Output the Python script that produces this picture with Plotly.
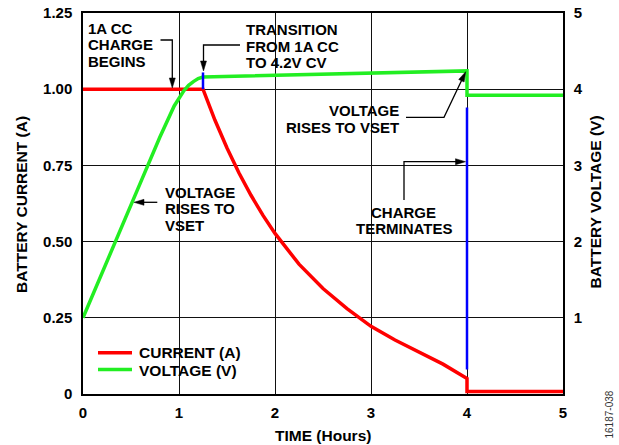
import math
import plotly.graph_objects as go

FONT = "Liberation Sans, Arial, Helvetica, sans-serif"

# ---- data ----
time_current = [0.0, 1.25, 1.375, 1.5, 1.625, 1.75, 1.875, 2.0, 2.25, 2.5,
                2.75, 3.0, 3.25, 3.5, 3.75, 4.0, 4.0, 5.0]
current = [1.0, 1.0, 0.898, 0.807, 0.725, 0.652, 0.586, 0.527, 0.426, 0.346,
           0.28, 0.222, 0.177, 0.138, 0.098, 0.051, 0.008, 0.008]

time_voltage = [0.0, 0.2, 0.333, 0.5, 0.611, 0.8, 0.95, 1.05, 1.1, 1.15,
                1.2, 1.25, 2.47, 4.0, 4.0, 5.0]
voltage = [1.0, 1.6, 2.0, 2.48, 2.81, 3.37, 3.78, 3.98, 4.05, 4.10,
           4.14, 4.16, 4.20, 4.24, 3.92, 3.92]

# blue markers (transition + termination), on the voltage scale
time_marker = [1.25, 1.25, None, 4.0, 4.0]
marker_voltage = [4.0, 4.22, None, 0.32, 3.76]

current_ticks = [0, 0.25, 0.5, 0.75, 1.0, 1.25]
current_labels = ["0", "0.25", "0.50", "0.75", "1.00", "1.25"]
voltage_ticks = [1, 2, 3, 4, 5]
time_ticks = [0, 1, 2, 3, 4, 5]

# plot area in pixels
W, H = 619, 445
L, R, T, B = 83, 563, 13, 394
PITCH = 16.4  # line spacing of the stacked callout texts


def paper(x, y):
    return (x - L) / (R - L), (B - y) / (B - T)


def path(points, close=False):
    parts = []
    for i, (x, y) in enumerate(points):
        px, py = paper(x, y)
        parts.append(("M" if i == 0 else "L") + f"{px:.5f},{py:.5f}")
    return " ".join(parts) + (" Z" if close else "")


def leader(points, length=10, half=3):
    """polyline whose last point is the arrow tip; returns two shapes"""
    (x0, y0), (x1, y1) = points[-2], points[-1]
    n = math.hypot(x1 - x0, y1 - y0)
    ux, uy = (x1 - x0) / n, (y1 - y0) / n
    bx, by = x1 - ux * length, y1 - uy * length
    line = dict(type="path", xref="paper", yref="paper",
                path=path(points[:-1] + [(bx + ux * 2, by + uy * 2)]),
                line=dict(color="black", width=1.3))
    head = dict(type="path", xref="paper", yref="paper",
                path=path([(x1, y1), (bx - uy * half, by + ux * half),
                           (bx + uy * half, by - ux * half)], close=True),
                fillcolor="black", line=dict(color="black", width=0.5))
    return [line, head]


def blank(x0, y0, x1, y1):
    """white patch that interrupts the grid behind a text block"""
    px0, py0 = paper(x0, y0)
    px1, py1 = paper(x1, y1)
    return dict(type="rect", xref="paper", yref="paper", layer="between",
                x0=px0, y0=py1, x1=px1, y1=py0,
                fillcolor="white", line=dict(width=0))


def label(text, x, y, anchor="left", size=15):
    px, py = paper(x, y)
    return dict(text=text, x=px, y=py, xref="paper", yref="paper",
                xanchor=anchor, yanchor="middle", showarrow=False,
                borderpad=0,
                font=dict(family=FONT, size=size, color="black", weight="bold"))


def block(lines, x, y_mid, anchor="left"):
    """stack of single-line labels centred on y_mid"""
    top = y_mid - PITCH * (len(lines) - 1) / 2
    return [label(t, x, top + i * PITCH, anchor) for i, t in enumerate(lines)]


fig = go.Figure()
fig.add_trace(go.Scatter(x=time_current, y=current, mode="lines",
                         name="CURRENT (A)",
                         line=dict(color="#ff0000", width=3.5)))
fig.add_trace(go.Scatter(x=time_voltage, y=voltage, mode="lines",
                         name="VOLTAGE (V)", yaxis="y2",
                         line=dict(color="#22ee22", width=3.5)))
fig.add_trace(go.Scatter(x=time_marker, y=marker_voltage, mode="lines",
                         yaxis="y2", showlegend=False, connectgaps=False,
                         line=dict(color="#0000ff", width=2.5)))

shapes = [
    blank(86, 19, 158, 69),
    blank(241, 20, 345, 72),
    blank(288, 100, 404, 137),
    blank(350, 202, 460, 237),
    blank(160, 180, 242, 237),
    blank(90, 338, 250, 383),
]
shapes += leader([(160.5, 40), (172.3, 40), (172.3, 88)])
shapes += leader([(240, 45), (203.5, 45), (203.5, 71)])
shapes += leader([(406, 117.3), (444, 117.3), (465.7, 71.7)])
shapes += leader([(404, 200), (404, 161.7), (465.5, 161.7)])
shapes += leader([(157.3, 202.3), (134, 202.3)])

# hand-drawn legend
for yy, col in [(352.7, "#ff0000"), (369.5, "#22ee22")]:
    ax0, ay = paper(98, yy)
    ax1, _ = paper(132, yy)
    shapes.append(dict(type="line", xref="paper", yref="paper",
                       x0=ax0, x1=ax1, y0=ay, y1=ay,
                       line=dict(color=col, width=3.5)))

annotations = []
annotations += block(["1A CC", "CHARGE", "BEGINS"], 86.5, 44.8)
annotations += block(["TRANSITION", "FROM 1A CC", "TO 4.2V CV"], 245, 46.3)
annotations += block(["VOLTAGE", "RISES TO VSET"], 400, 118.9, "right")
annotations += block(["CHARGE", "TERMINATES"], 403.5, 220.2, "center")
annotations += block(["VOLTAGE", "RISES TO", "VSET"], 164, 208.6)
annotations += [
    label("CURRENT (A)", 138, 352.5, size=15.5),
    label("VOLTAGE (V)", 138, 370, size=15.5),
    label("TIME (Hours)", 323.3, 435.5, "center", 15.5),
]
for text, x, y in [("BATTERY CURRENT (A)", 21, 205),
                   ("BATTERY VOLTAGE (V)", 595, 202.5)]:
    a = label(text, x, y, "center", 15.5)
    a["textangle"] = -90
    annotations.append(a)
tag = label("16187-038", 609.5, 415, "center", 10)
tag["textangle"] = -90
tag["font"] = dict(family=FONT, size=10, color="#333333")
annotations.append(tag)

tick_font = dict(family=FONT, size=15, color="black", weight="bold")

fig.update_layout(
    width=W, height=H,
    margin=dict(l=L, r=W - R, t=T, b=H - B, pad=0, autoexpand=False),
    paper_bgcolor="white", plot_bgcolor="white",
    showlegend=False,
    shapes=shapes,
    annotations=annotations,
    xaxis=dict(range=[0, 5], tickvals=time_ticks, showgrid=True,
               gridcolor="#111111", gridwidth=1, zeroline=False,
               showline=True, linecolor="black", linewidth=1.5, mirror=True,
               ticks="", tickfont=tick_font, ticklabelstandoff=4,
               automargin=False),
    yaxis=dict(range=[0, 1.25], tickvals=current_ticks, ticktext=current_labels,
               showgrid=True, gridcolor="#111111", gridwidth=1, zeroline=False,
               showline=True, linecolor="black", linewidth=1.5, mirror=True,
               ticks="", tickfont=tick_font, ticklabelstandoff=6,
               automargin=False),
    yaxis2=dict(range=[0, 5], tickvals=voltage_ticks, overlaying="y",
                side="right", showgrid=False, zeroline=False,
                showline=True, linecolor="black", linewidth=1.5,
                ticks="", tickfont=tick_font, ticklabelstandoff=6,
                automargin=False),
)

fig.write_html("out.html", config={"displayModeBar": False},
               post_script="document.body.style.margin='0px';")
